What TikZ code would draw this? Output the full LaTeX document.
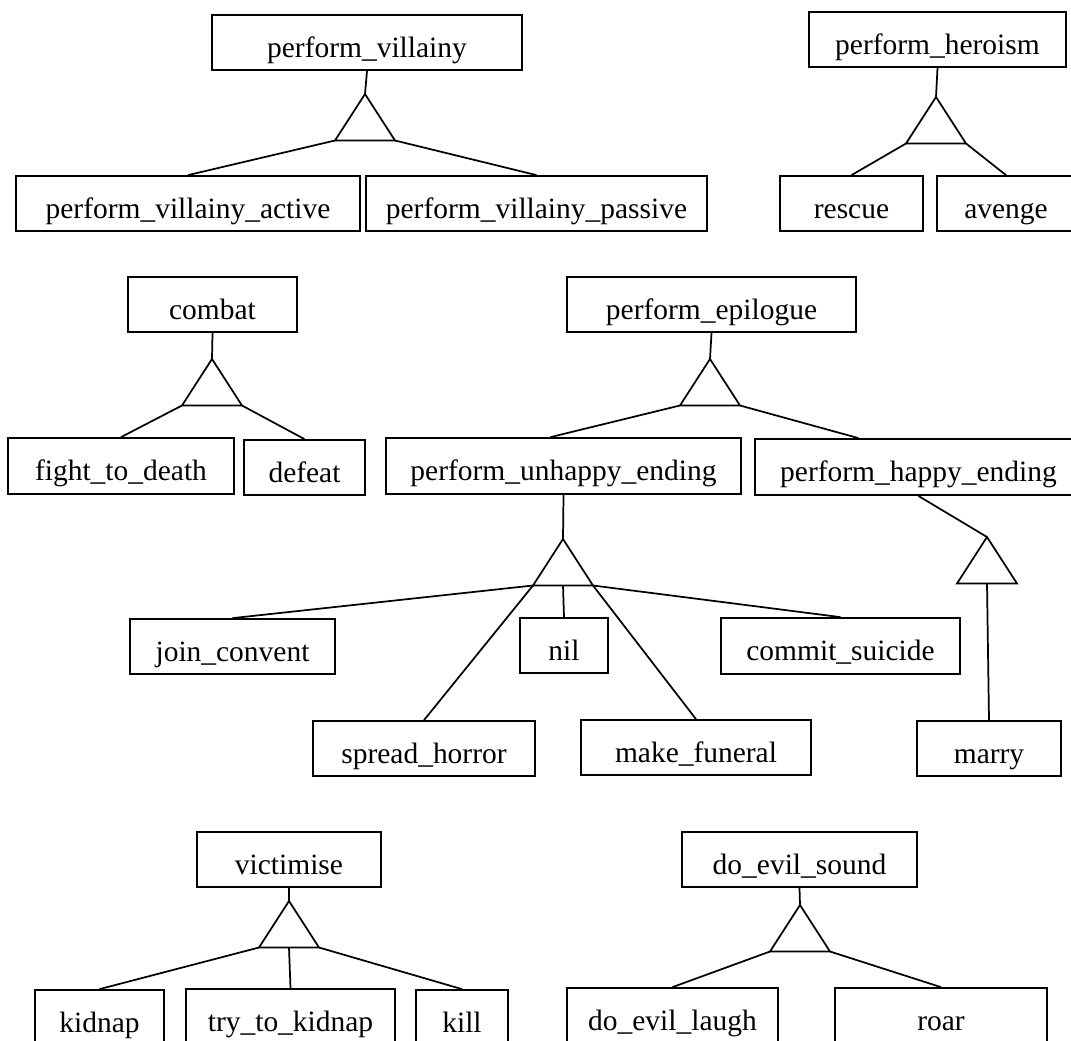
\documentclass[tikz,border=0pt]{standalone}
\usepackage{fontspec}
\setmainfont{Liberation Serif}
\usetikzlibrary{calc}
\newcommand{\bx}[6]{%
  \pgfmathsetmacro{\bxw}{(#3-#2)*0.75}%
  \pgfmathsetmacro{\bxd}{(#5-#4-42)*0.75}%
  \node[box, minimum width=\bxw pt, text height=31.5pt, text depth=\bxd pt, anchor=south] (#1) at ({(#2+#3)/2},#5) {#6};}
\newcommand{\tri}[3]{%
  \coordinate (#1-a) at (#2,#3);
  \coordinate (#1-l) at ({#2-30},{#3+46.5});
  \coordinate (#1-r) at ({#2+30},{#3+46.5});
  \coordinate (#1-m) at (#2,{#3+46.5});
  \draw[trishape] (#1-a) -- (#1-l) -- (#1-r) -- cycle;}
\begin{document}
\begin{tikzpicture}[x=0.75pt,y=-0.75pt,
  box/.style={draw,line width=1.4pt,inner sep=0pt,font=\fontsize{22.1}{26}\selectfont},
  link/.style={line width=1.3pt},
  trishape/.style={line width=1.3pt,line join=miter}]
\useasboundingbox (0,0) rectangle (1071,1041);
\clip (0,0) rectangle (1071,1041);
\fill[white] (0,0) rectangle (1071,1041);

\bx{pv}{212}{522}{16}{71}{perform\_villainy}
\bx{pva}{16}{360}{177}{232}{perform\_villainy\_active}
\bx{pvp}{366}{707}{177}{232}{perform\_villainy\_passive}
\bx{ph}{809}{1066}{13}{68}{perform\_heroism}
\bx{rescue}{780}{923}{177}{232}{rescue}
\bx{avenge}{937}{1075}{177}{232}{avenge}
\bx{combat}{128}{297}{278}{333}{combat}
\bx{ftd}{8}{234}{439}{495}{fight\_to\_death}
\bx{defeat}{244}{365}{441}{496}{defeat}
\bx{pe}{567}{856}{278}{333}{perform\_epilogue}
\bx{pue}{386}{741}{439}{495}{perform\_unhappy\_ending}
\bx{phe}{755}{1082}{440}{496}{perform\_happy\_ending}
\bx{jc}{130}{335}{620}{675}{join\_convent}
\bx{nil}{520}{608}{619}{674}{nil}
\bx{cs}{721}{960}{619}{675}{commit\_suicide}
\bx{sh}{313}{535}{722}{777}{spread\_horror}
\bx{mf}{581}{811}{721}{776}{make\_funeral}
\bx{marry}{917}{1061}{722}{777}{marry}
\bx{vict}{197}{381}{833}{888}{victimise}
\bx{dos}{682}{917}{833}{888}{do\_evil\_sound}
\bx{kidnap}{35}{164}{991}{1046}{kidnap}
\bx{ttk}{186}{395}{990}{1045}{try\_to\_kidnap}
\bx{kill}{416}{508}{991}{1046}{kill}
\bx{del}{567}{778}{989}{1044}{do\_evil\_laugh}
\bx{roar}{835}{1047}{989}{1044}{roar}

\tri{t1}{365}{94}
\tri{t2}{936}{97}
\tri{t3}{212}{359}
\tri{t4}{710}{359}
\tri{t5}{563}{539}
\tri{t6}{987}{537}
\tri{t7}{289}{901}
\tri{t8}{800}{905}

\draw[link] (pv.south) -- (t1-a);
\draw[link] (t1-l) -- (pva.north);
\draw[link] (t1-r) -- (pvp.north);

\draw[link] (ph.south) -- (t2-a);
\draw[link] (t2-l) -- (rescue.north);
\draw[link] (t2-r) -- (avenge.north);

\draw[link] (combat.south) -- (t3-a);
\draw[link] (t3-l) -- (ftd.north);
\draw[link] (t3-r) -- (defeat.north);

\draw[link] (pe.south) -- (t4-a);
\draw[link] (t4-l) -- ($(pue.north)+(-13,0)$);
\draw[link] (t4-r) -- ($(phe.north)+(-60,0)$);

\draw[link] (pue.south) -- (t5-a);
\draw[link] (t5-l) -- (jc.north);
\draw[link] (t5-l) -- (sh.north);
\draw[link] (t5-m) -- (nil.north);
\draw[link] (t5-r) -- (mf.north);
\draw[link] (t5-r) -- (cs.north);

\draw[link] (phe.south) -- (t6-a);
\draw[link] (t6-m) -- (marry.north);

\draw[link] (vict.south) -- (t7-a);
\draw[link] (t7-l) -- (kidnap.north);
\draw[link] (t7-m) -- (ttk.north);
\draw[link] (t7-r) -- (kill.north);

\draw[link] (dos.south) -- (t8-a);
\draw[link] (t8-l) -- (del.north);
\draw[link] (t8-r) -- (roar.north);
\end{tikzpicture}
\end{document}
